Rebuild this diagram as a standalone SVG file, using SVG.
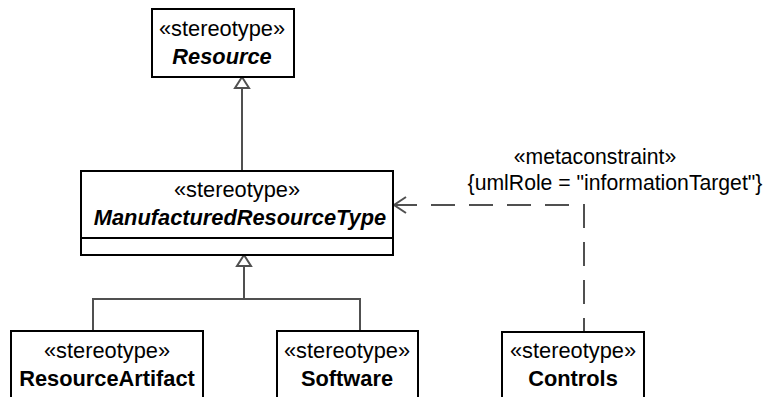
<svg xmlns="http://www.w3.org/2000/svg" width="763" height="397" viewBox="0 0 763 397">
<style>
.box{fill:#fff;stroke:#000;stroke-width:2}
.t{font-family:"Liberation Sans",Arial,sans-serif;font-size:21.8px;fill:#000;text-anchor:middle}
.k{font-size:21.2px}
.n{font-weight:bold}
.i{font-style:italic}
.c{fill:none;stroke:#505050;stroke-width:2}
.d{fill:none;stroke:#505050;stroke-width:2;stroke-dasharray:24 14}
</style>
<rect width="763" height="397" fill="#fff"/>
<g id="connectors">
<line class="c" x1="242" y1="88" x2="242" y2="171"/>
<polygon points="242,77 235,88 249,88" fill="#fff" stroke="#505050" stroke-width="2"/>
<polyline class="c" points="93,331 93,299 360,299 360,331"/>
<line class="c" x1="244" y1="266" x2="244" y2="299"/>
<polygon points="244,255 237,266 251,266" fill="#fff" stroke="#505050" stroke-width="2"/>
<path class="d" d="M393,205 H584 V331"/>
<polyline class="c" points="406,197 394,205 406,213"/>
<text class="t k" x="595" y="164">«metaconstraint»</text>
<text class="t k" x="615" y="190">{umlRole = "informationTarget"}</text>
</g>
<g id="Resource">
<rect class="box" x="152" y="9" width="142" height="68"/>
<text class="t" x="222" y="36">«stereotype»</text>
<text class="t n i" x="222" y="64">Resource</text>
</g>
<g id="ManufacturedResourceType">
<rect class="box" x="81" y="171" width="312" height="84"/>
<line x1="81" y1="238" x2="393" y2="238" stroke="#000" stroke-width="2"/>
<text class="t" x="237" y="197">«stereotype»</text>
<text class="t n i" x="240" y="225">ManufacturedResourceType</text>
</g>
<g id="ResourceArtifact">
<rect class="box" x="11" y="331" width="192" height="80"/>
<text class="t" x="107" y="358">«stereotype»</text>
<text class="t n" x="107" y="386">ResourceArtifact</text>
</g>
<g id="Software">
<rect class="box" x="277" y="331" width="141" height="80"/>
<text class="t" x="347" y="358">«stereotype»</text>
<text class="t n" x="347" y="386">Software</text>
</g>
<g id="Controls">
<rect class="box" x="502" y="332" width="142" height="80"/>
<text class="t" x="573" y="358">«stereotype»</text>
<text class="t n" x="573" y="386">Controls</text>
</g>
</svg>
